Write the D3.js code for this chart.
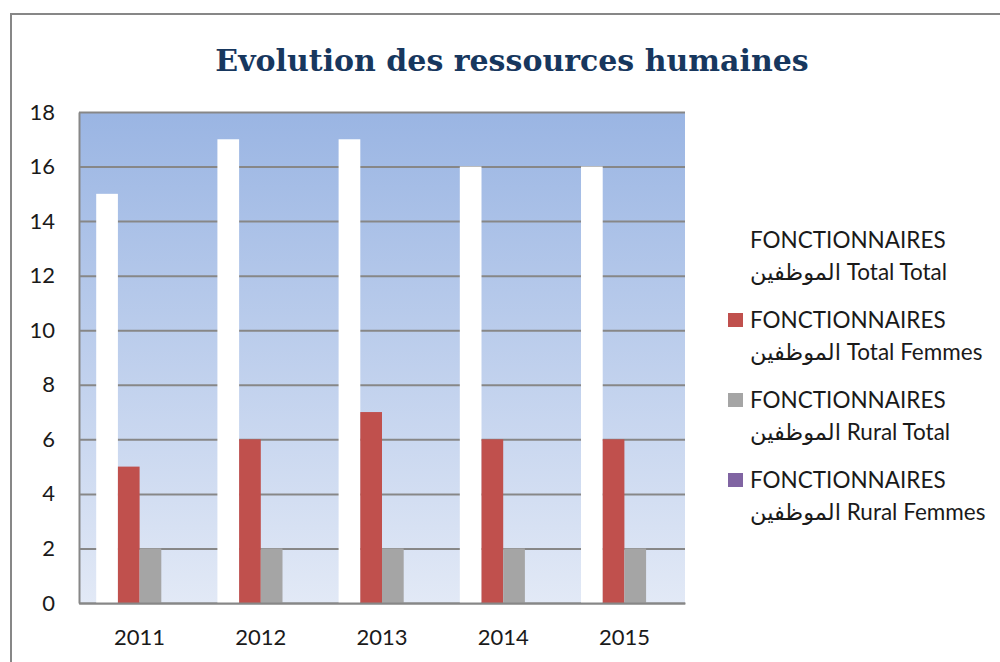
<!DOCTYPE html>
<html>
<head>
<meta charset="utf-8">
<script src="https://cdn.jsdelivr.net/npm/d3@7"></script>
<style>
  body { margin: 0; background: #fff; }
  svg { display: block; }
</style>
</head>
<body>
<div id="chart"></div>
<script>
const w = 1000;
const h = 662;

// data
const years = ["2011", "2012", "2013", "2014", "2015"];
const totalTotal = [15, 17, 17, 16, 16];
const totalFemmes = [5, 6, 7, 6, 6];
const ruralTotal = [2, 2, 2, 2, 2];
const ruralFemmes = [0, 0, 0, 0, 0];
const yTicks = [0, 2, 4, 6, 8, 10, 12, 14, 16, 18];

const seriesNames = [
  ["FONCTIONNAIRES", "الموظفين Total Total"],
  ["FONCTIONNAIRES", "الموظفين Total Femmes"],
  ["FONCTIONNAIRES", "الموظفين Rural Total"],
  ["FONCTIONNAIRES", "الموظفين Rural Femmes"],
];
const colors = ["#FFFFFF", "#C0504D", "#A5A5A5", "#8064A2"];
const allSeries = [totalTotal, totalFemmes, ruralTotal, ruralFemmes];

const plot = { left: 79, right: 685, top: 112, bottom: 603 };
const font = "Lato, 'Open Sans', 'DejaVu Sans', sans-serif";

const svg = d3
  .select("#chart")
  .append("svg")
  .attr("width", w)
  .attr("height", h);

// outer chart border (runs off the right/bottom of the shot)
svg
  .append("rect")
  .attr("x", 11)
  .attr("y", 14)
  .attr("width", 1010)
  .attr("height", 700)
  .attr("fill", "#fff")
  .attr("stroke", "#878787")
  .attr("stroke-width", 2);

svg
  .append("text")
  .text("Evolution des ressources humaines")
  .attr("x", 512)
  .attr("y", 71)
  .attr("text-anchor", "middle")
  .attr("font-family", "'DejaVu Serif', 'Liberation Serif', serif")
  .attr("font-weight", "bold")
  .attr("font-size", "30px")
  .attr("fill", "#17375E");

const defs = svg.append("defs");
const grad = defs
  .append("linearGradient")
  .attr("id", "bg")
  .attr("x1", 0)
  .attr("y1", 0)
  .attr("x2", 0)
  .attr("y2", 1);
grad.append("stop").attr("offset", "0%").attr("stop-color", "#9AB5E3");
grad.append("stop").attr("offset", "100%").attr("stop-color", "#E2E9F6");

const x = d3
  .scaleBand()
  .domain(years)
  .range([plot.left, plot.right])
  .paddingInner(0.284)
  .paddingOuter(0.142);

const xInner = d3
  .scaleBand()
  .domain(d3.range(allSeries.length))
  .range([0, x.bandwidth()]);

const y = d3.scaleLinear().domain([0, 18]).range([plot.bottom, plot.top]);

svg
  .append("rect")
  .attr("x", plot.left)
  .attr("y", plot.top)
  .attr("width", plot.right - plot.left)
  .attr("height", plot.bottom - plot.top)
  .attr("fill", "url(#bg)");

// gridlines
svg
  .append("g")
  .attr("transform", `translate(${plot.left},0)`)
  .call(
    d3
      .axisLeft(y)
      .tickValues(yTicks)
      .tickSize(-(plot.right - plot.left))
      .tickFormat("")
  )
  .call((g) => g.select(".domain").remove())
  .selectAll("line")
  .attr("stroke", "#878787")
  .attr("stroke-width", 2);

// bars
const groups = svg
  .append("g")
  .selectAll("g")
  .data(years)
  .enter()
  .append("g")
  .attr("transform", (d) => `translate(${x(d)},0)`);

groups
  .selectAll("rect")
  .data((d, i) => allSeries.map((s, k) => ({ k: k, v: s[i] })))
  .enter()
  .append("rect")
  .attr("x", (d) => xInner(d.k))
  .attr("y", (d) => y(d.v))
  .attr("width", xInner.bandwidth())
  .attr("height", (d) => y(0) - y(d.v))
  .attr("fill", (d) => colors[d.k]);

// axes
const yAxis = svg
  .append("g")
  .attr("transform", `translate(${plot.left},0)`)
  .call(d3.axisLeft(y).tickValues(yTicks).tickSize(0).tickPadding(24));
yAxis.select(".domain").attr("stroke", "#878787").attr("stroke-width", 2);
yAxis
  .selectAll("text")
  .attr("font-family", font)
  .attr("font-size", "22px")
  .attr("fill", "#1a1a1a");

const xAxis = svg
  .append("g")
  .attr("transform", `translate(0,${plot.bottom})`)
  .call(d3.axisBottom(x).tickSize(0).tickPadding(26));
xAxis.select(".domain").attr("stroke", "#878787").attr("stroke-width", 2);
xAxis
  .selectAll("text")
  .attr("font-family", font)
  .attr("font-size", "22px")
  .attr("fill", "#1a1a1a");

// legend
const legend = svg
  .append("g")
  .selectAll("g")
  .data(seriesNames)
  .enter()
  .append("g")
  .attr("transform", (d, i) => `translate(728,${240 + i * 80})`);

legend
  .append("rect")
  .attr("x", 0)
  .attr("y", -7)
  .attr("width", 15)
  .attr("height", 14)
  .attr("fill", (d, i) => colors[i]);

legend
  .append("text")
  .attr("x", 22)
  .attr("y", 8)
  .attr("font-family", font)
  .attr("font-size", "22.5px")
  .attr("fill", "#1a1a1a")
  .text((d) => d[0]);

legend
  .append("text")
  .attr("x", 22)
  .attr("y", 40)
  .attr("font-family", font)
  .attr("font-size", "22.5px")
  .attr("fill", "#1a1a1a")
  .text((d) => d[1]);
</script>
</body>
</html>
